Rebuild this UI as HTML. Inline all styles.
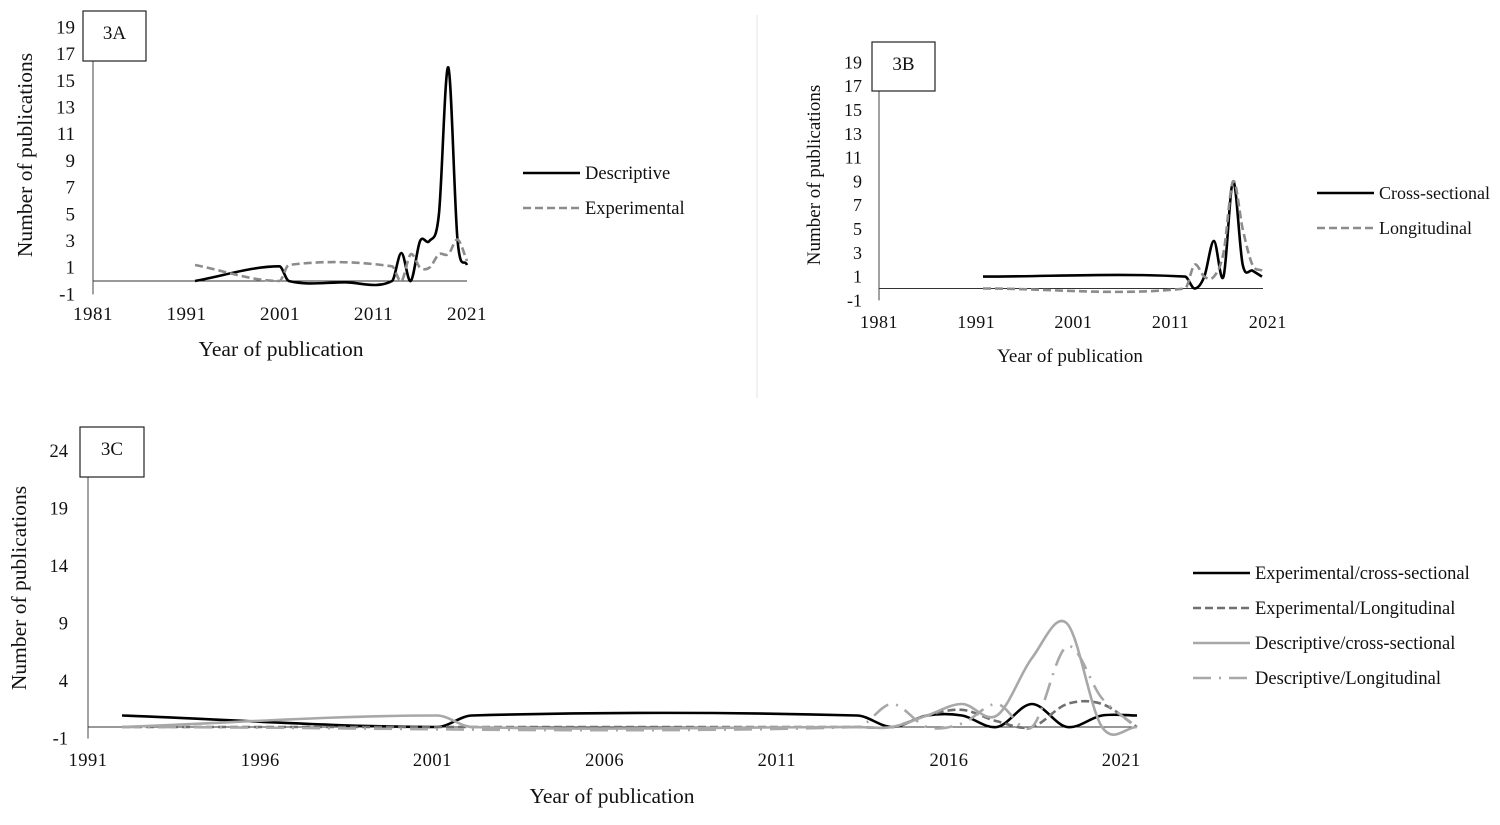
<!DOCTYPE html>
<html><head><meta charset="utf-8"><style>
html,body{margin:0;padding:0;background:#fff;}
svg text{font-family:"Liberation Serif",serif;fill:#111;}
</style></head><body>
<svg id="c" width="1500" height="820" viewBox="0 0 1500 820" xmlns="http://www.w3.org/2000/svg">
<line x1="757" y1="15" x2="757" y2="398" stroke="#e4e4e4" stroke-width="1"/>
</svg>
<script>
// ---------- Data ----------
const aTicksX = ["1981","1991","2001","2011","2021"];
const aTicksY = [-1,1,3,5,7,9,11,13,15,17,19];
const aDescYears = [1992,2001,2002,2008,2013,2014,2015,2016,2017,2018,2019,2020,2021];
const aDescVals  = [0,1.1,0,-0.1,0,2.1,0,3,3,5,16,3,1.2];
const aExpYears  = [1992,2001,2002,2013,2014,2015,2016,2017,2018,2019,2020,2021];
const aExpVals   = [1.2,0,1.2,1.1,0,2,1,1,2,2,3.1,1.5];

const bTicksX = ["1981","1991","2001","2011","2021"];
const bTicksY = [-1,1,3,5,7,9,11,13,15,17,19];
const bCrossYears = [1992,2013,2014,2015,2016,2017,2018,2019,2020,2021];
const bCrossVals  = [1,1,0,1,4,1,9,2,1.5,1];
const bLongYears  = [1992,2013,2014,2015,2016,2017,2018,2019,2020,2021];
const bLongVals   = [0,0,2,1,1,3,9,5,2,1.5];

const cTicksX = ["1991","1996","2001","2006","2011","2016","2021"];
const cTicksY = [-1,4,9,14,19,24];
const cExpCrossYears = [1992,2001,2002,2013,2014,2015,2016,2017,2018,2019,2020,2021];
const cExpCrossVals  = [1,0,1,1,0,1,1,0,2,0,1,1];
const cExpLongYears  = [1992,2013,2014,2015,2016,2017,2018,2019,2020,2021];
const cExpLongVals   = [0,0,0,1,1.5,0.5,0,2,2,0];
const cDescCrossYears = [1992,2001,2002,2013,2014,2015,2016,2017,2018,2019,2020,2021];
const cDescCrossVals  = [0,1,0,0,0,1,2,1,6,9,0,0];
const cDescLongYears  = [1992,2013,2014,2015,2016,2017,2018,2019,2020,2021];
const cDescLongVals   = [0,0,2,0,0.3,2,0,7,2.5,0];

// ---------- Helpers ----------
const svg = document.getElementById('c');
const NS = 'http://www.w3.org/2000/svg';
function mk(tag, attrs, parent){
  const e = document.createElementNS(NS, tag);
  for (const k in attrs) e.setAttribute(k, attrs[k]);
  (parent||svg).appendChild(e);
  return e;
}
function smoothPath(pts){
  const n = pts.length;
  const slope = [];
  for (let i=0;i<n;i++){
    const a = pts[Math.max(0,i-1)], b = pts[Math.min(n-1,i+1)];
    slope.push((b[1]-a[1])/(b[0]-a[0]));
  }
  let d = 'M'+pts[0][0].toFixed(1)+','+pts[0][1].toFixed(1);
  for (let i=0;i<n-1;i++){
    const p1=pts[i], p2=pts[i+1];
    const dx=(p2[0]-p1[0])/3;
    const c1x=p1[0]+dx, c1y=p1[1]+slope[i]*dx;
    const c2x=p2[0]-dx, c2y=p2[1]-slope[i+1]*dx;
    d+=' C'+c1x.toFixed(1)+','+c1y.toFixed(1)+' '+c2x.toFixed(1)+','+c2y.toFixed(1)+' '+p2[0].toFixed(1)+','+p2[1].toFixed(1);
  }
  return d;
}

function panel(cfg){
  const g = mk('g',{});
  
  
  const y = v => cfg.zeroY - v*cfg.unit;
  const x = yr => cfg.dataX0 + (yr-1992)*cfg.dataStep;
  const ya = mk('line',{x1:cfg.axisX,y1:cfg.boxB,x2:cfg.axisX,y2:y(-1),stroke:'#444','stroke-width':1},g);
  
  
  const xa = mk('line',{x1:cfg.axisX,y1:y(0),x2:cfg.axisEnd,y2:y(0),stroke:'#333','stroke-width':1},g);
  
  
  cfg.ticksY.forEach(v=>{
    const t = mk('text',{x:cfg.axisX-cfg.tickGap,y:y(v)+6,'text-anchor':'end','font-size':cfg.tickFont},g);
    t.textContent = v;
    
    
  });
  cfg.ticksX.forEach((lab,i)=>{
    const t = mk('text',{x:cfg.axisX+i*cfg.tickStep,y:cfg.tickY,'text-anchor':'middle','font-size':cfg.tickFont,'letter-spacing':'0.5'},g);
    t.textContent = lab;
    
    
  });
  const b = mk('rect',{x:cfg.box[0],y:cfg.box[1],width:cfg.box[2],height:cfg.box[3],fill:'#fff',stroke:'#222','stroke-width':1.2},g);
  
  
  const bt = mk('text',{x:cfg.box[0]+cfg.box[2]/2,y:cfg.box[1]+28,'text-anchor':'middle','font-size':19},g);
  bt.textContent = cfg.label;
  
  
  const yt = mk('text',{x:0,y:0,'text-anchor':'middle','font-size':cfg.titleFont,transform:'translate('+cfg.yTitle[0]+','+cfg.yTitle[1]+') rotate(-90)'},g);
  yt.textContent = 'Number of publications';
  
  
  const xt = mk('text',{x:cfg.xTitle[0],y:cfg.xTitle[1],'text-anchor':'middle','font-size':cfg.titleFont},g);
  xt.textContent = 'Year of publication';
  
  
  cfg.series.forEach((s,i)=>{
    const pts = s.years.map((yr,j)=>[x(yr), y(s.vals[j])]);
    const p = mk('path',{d:smoothPath(pts),fill:'none',stroke:s.color,'stroke-width':2.6,'stroke-dasharray':s.dash||'none'},g);
    
    
    const ly = cfg.legend[1]+i*35;
    const ll = mk('line',{x1:cfg.legend[0],y1:ly,x2:cfg.legend[0]+57,y2:ly,stroke:s.color,'stroke-width':2.6,'stroke-dasharray':s.dash||'none'},g);
    
    
    const lt = mk('text',{x:cfg.legend[0]+62,y:ly+6,'font-size':cfg.legendFont},g);
    lt.textContent = s.label;
    
    
  });
}

panel({name:'chart-3a',label:'3A',zeroY:281,unit:13.35,axisX:93,axisEnd:467,boxB:61,
  dataX0:195,dataStep:9.38,tickStep:93.5,tickY:320,tickGap:18,tickFont:19,titleFont:21.5,
  ticksX:aTicksX,ticksY:aTicksY,box:[83,11,63,50],yTitle:[32,155],xTitle:[281,356],
  legend:[523,173],legendFont:18.5,
  series:[
    {id:'descriptive',label:'Descriptive',years:aDescYears,vals:aDescVals,color:'#000'},
    {id:'experimental',label:'Experimental',years:aExpYears,vals:aExpVals,color:'#8c8c8c',dash:'8,4'}
  ]});

panel({name:'chart-3b',label:'3B',zeroY:288.5,unit:11.9,axisX:879,axisEnd:1263,boxB:91,
  dataX0:983,dataStep:9.62,tickStep:97.2,tickY:328,tickGap:17,tickFont:18,titleFont:19,
  ticksX:bTicksX,ticksY:bTicksY,box:[872,42,63,49],yTitle:[820,175],xTitle:[1070,362],
  legend:[1317,193],legendFont:18,
  series:[
    {id:'cross-sectional',label:'Cross-sectional',years:bCrossYears,vals:bCrossVals,color:'#000'},
    {id:'longitudinal',label:'Longitudinal',years:bLongYears,vals:bLongVals,color:'#8c8c8c',dash:'8,4'}
  ]});

panel({name:'chart-3c',label:'3C',zeroY:727,unit:11.5,axisX:88,axisEnd:1137,boxB:477,
  dataX0:122,dataStep:35,tickStep:172.2,tickY:766,tickGap:20,tickFont:18.5,titleFont:21.5,
  ticksX:cTicksX,ticksY:cTicksY,box:[80,427,64,50],yTitle:[26,588],xTitle:[612,803],
  legend:[1193,573],legendFont:18.5,
  series:[
    {id:'experimental-cross-sectional',label:'Experimental/cross-sectional',years:cExpCrossYears,vals:cExpCrossVals,color:'#000'},
    {id:'experimental-longitudinal',label:'Experimental/Longitudinal',years:cExpLongYears,vals:cExpLongVals,color:'#707070',dash:'8,4'},
    {id:'descriptive-cross-sectional',label:'Descriptive/cross-sectional',years:cDescCrossYears,vals:cDescCrossVals,color:'#a8a8a8'},
    {id:'descriptive-longitudinal',label:'Descriptive/Longitudinal',years:cDescLongYears,vals:cDescLongVals,color:'#a8a8a8',dash:'18,8,2,8'}
  ]});
</script>
</body></html>
